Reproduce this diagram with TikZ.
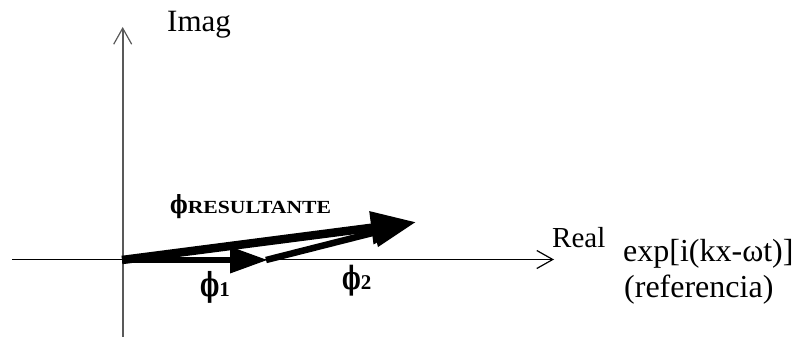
\documentclass[tikz,border=0pt]{standalone}
\usepackage{fontspec}
\setmainfont{Liberation Serif}
\newfontfamily\phifont{DejaVu Serif}
\usetikzlibrary{arrows.meta}
% bold straight phi, narrowed horizontally
\newcommand\phiglyph[2]{\scalebox{#2}[1]{\fontsize{#1}{#1}\phifont\bfseries ϕ}}
\tikzset{
  lbl/.style={inner sep=0pt, anchor=base west, font=\fontsize{30}{36}\selectfont},
  axisx/.style={line width=1.3pt, black, -{Straight Barb[length=16pt,width=18pt,line width=1.2pt]}},
  axisy/.style={line width=2.2pt, black!65, -{Straight Barb[length=16pt,width=18pt,line width=1.2pt]}},
  phasor/.style={line width=6.5pt, black, line cap=butt},
}
\begin{document}
\begin{tikzpicture}[x=1pt, y=-1pt]
\useasboundingbox (0,0) rectangle (798,337);
% axes
\coordinate (xl) at (12,259.5);
\coordinate (xr) at (554,259.5);
\coordinate (yb) at (122.7,337);
\coordinate (yt) at (122.7,27);
\draw[axisy] (yb) -- (yt);
\draw[axisx] (xl) -- (xr);
% phasors
\coordinate (O) at (122,260);
\coordinate (A) at (268,260);
\coordinate (B) at (416,222);
\draw[phasor, -{Triangle[length=38pt,width=25pt]}] (O) -- (A);
\draw[phasor, -{Triangle[length=43pt,width=28pt]}] ([yshift=1pt]A.center) ++(-2,1) -- (B);
\draw[phasor, line width=8.5pt, -{Triangle[length=45pt,width=31pt]}] (O) -- (B);
% labels
\node[lbl, font=\fontsize{31}{36}\selectfont] (imag) at (167,32) {Imag};
\node[lbl, font=\fontsize{29}{35}\selectfont] (real) at (552,247) {Real};
\node[lbl, font=\fontsize{32}{37}\selectfont] (ref1) at (623,261) {exp[i(kx-ωt)]};
\node[lbl, font=\fontsize{32}{37}\selectfont] (ref2) at (624,297) {(referencia)};
\node[lbl] (res) at (170,213) {\phiglyph{25}{0.75}\scalebox{1.17}[1]{\fontsize{18.5}{20}\selectfont\bfseries RESULTANTE}};
\node[lbl] (p1) at (200,296) {\phiglyph{33}{0.62}{\fontsize{21}{22}\selectfont\bfseries 1}};
\node[lbl] (p2) at (342,289) {\phiglyph{32}{0.62}{\fontsize{21}{22}\selectfont\bfseries 2}};
\end{tikzpicture}
\end{document}
